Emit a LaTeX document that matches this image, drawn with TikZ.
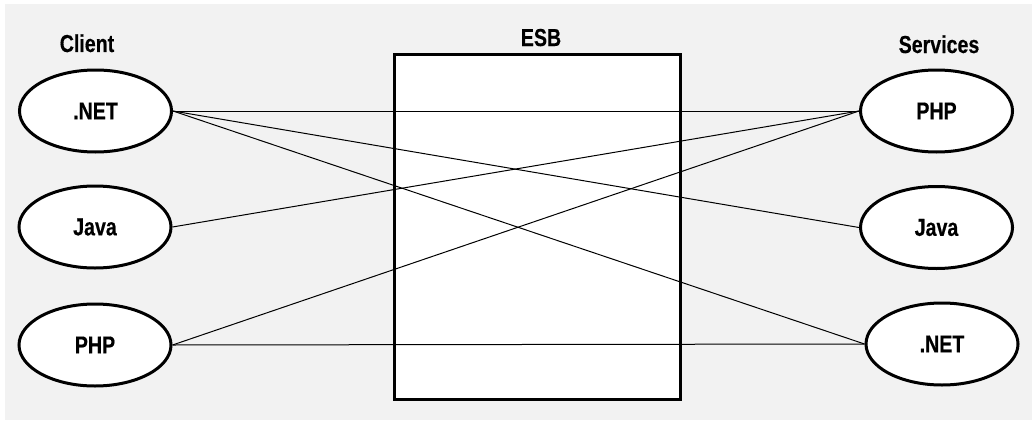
\documentclass[tikz,border=0pt]{standalone}
\usepackage{fontspec}
\setmainfont{Liberation Sans}[FakeStretch=0.8,BoldFeatures={FakeStretch=0.8,FakeBold=0.4}]
\usetikzlibrary{shapes.geometric}
\definecolor{bggray}{HTML}{F2F2F2}
\pgfdeclarelayer{bg}
\pgfdeclarelayer{mid}
\pgfsetlayers{bg,mid,main}
\begin{document}
\begin{tikzpicture}[x=1pt,y=-1pt,
  tech/.style={ellipse,draw=black,fill=white,line width=3pt,minimum width=152pt,minimum height=82pt,inner sep=0pt,font=\fontsize{24.5}{24}\selectfont\bfseries},
  head/.style={anchor=base,inner sep=0pt,font=\fontsize{24.5}{24}\selectfont\bfseries},
  link/.style={draw=black,line width=1pt}]
\useasboundingbox (0,0) rectangle (1032,420);
\begin{pgfonlayer}{bg}
\fill[white] (0,0) rectangle (1032,420);
\fill[bggray] (5,4) rectangle (1032,420);
\node[draw=black,fill=white,line width=3pt,minimum width=286pt,minimum height=345pt,inner sep=0pt] (bus) at (537.5,227) {};
\end{pgfonlayer}
% headings
\node[head] (client) at (87,52) {Client};
\node[head] (esb) at (541,46) {ESB};
\node[head] (services) at (939,53) {Services};
% clients and services
\node[tech] (l1) at (95.5,111) {.NET};
\node[tech] (l2) at (95,227) {Java};
\node[tech] (l3) at (95,345) {PHP};
\node[tech] (r1) at (936.5,111) {PHP};
\node[tech] (r2) at (936.5,227.5) {Java};
\node[tech] (r3) at (942,344) {.NET};
% connectors
\begin{pgfonlayer}{mid}
\draw[link] (l1.east) -- (r1.west);
\draw[link] (l1.east) -- (r2.west);
\draw[link] (l1.east) -- (r3.west);
\draw[link] (l2.east) -- (r1.west);
\draw[link] (l3.east) -- (r1.west);
\draw[link] (l3.east) -- (r3.west);
\end{pgfonlayer}
\end{tikzpicture}
\end{document}
